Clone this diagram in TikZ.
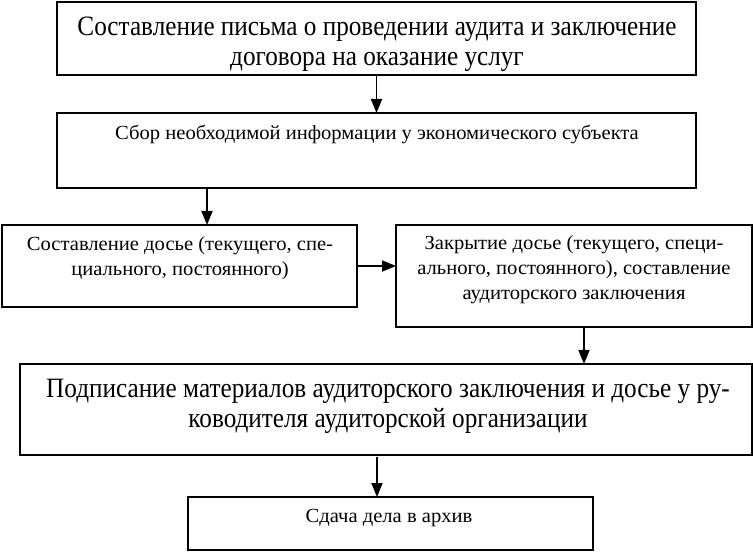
\documentclass[tikz,border=0pt]{standalone}
\usepackage{fontspec}
\setmainfont{Liberation Serif}
\newfontfamily\bigserif[FakeStretch=0.9]{Liberation Serif}
\newfontfamily\smallserif[FakeStretch=1.03]{Liberation Serif}
\usetikzlibrary{arrows.meta,calc}
\tikzset{
  box/.style={draw, line width=2pt, inner sep=0pt, outer sep=0pt},
  bigtxt/.style={align=center, font=\bigserif\fontsize{28}{30}\selectfont, inner sep=0pt},
  smalltxt/.style={align=center, font=\smallserif\fontsize{20}{25}\selectfont, inner sep=0pt},
  arr/.style={line width=1.8pt, -{Triangle[length=14pt,width=11pt]}}
}
\begin{document}
\begin{tikzpicture}[x=1pt,y=-1pt]
\useasboundingbox (0,0) rectangle (753,553);
% boxes
\node[box, minimum width=639pt, minimum height=73pt] (b1) at (376.5,38.5) {};
\node[box, minimum width=639pt, minimum height=75pt] (b2) at (376.5,150.5) {};
\node[box, minimum width=355pt, minimum height=82pt] (b3) at (179.5,266) {};
\node[box, minimum width=356pt, minimum height=102pt] (b4) at (574,276) {};
\node[box, minimum width=732pt, minimum height=91pt] (b5) at (386,409.5) {};
\node[box, minimum width=405pt, minimum height=53pt] (b6) at (390.5,523.5) {};
% texts
\node[bigtxt] (t1) at (377,44) {Составление письма о проведении аудита и заключение\\договора на оказание услуг};
\node[smalltxt] (t2) at (377,135) {Сбор необходимой информации у экономического субъекта};
\node[smalltxt] (t3) at (180,258) {Составление досье (текущего, спе-\\циального, постоянного)};
\node[smalltxt] (t4) at (574,270) {Закрытие досье (текущего, специ-\\ального, постоянного), составление\\аудиторского заключения};
\node[bigtxt] (t5) at (388,406) {Подписание материалов аудиторского заключения и досье у ру-\\ководителя аудиторской организации};
\node[smalltxt] (t6) at (389,518) {Сдача дела в архив};
% helper coordinates
\coordinate (c23) at (207,0);
\coordinate (c45) at (584,0);
\coordinate (c56) at (377,0);
% arrows
\draw[arr] (b1.south) -- (b2.north);
\draw[arr] (b2.south -| c23) -- (b3.north -| c23);
\draw[arr] (b3.east) -- (b3.east -| b4.west);
\draw[arr] (b4.south -| c45) -- (b5.north -| c45);
\draw[arr] ([yshift=-2pt]b5.south -| c56) -- (b6.north -| c56);
\end{tikzpicture}
\end{document}
